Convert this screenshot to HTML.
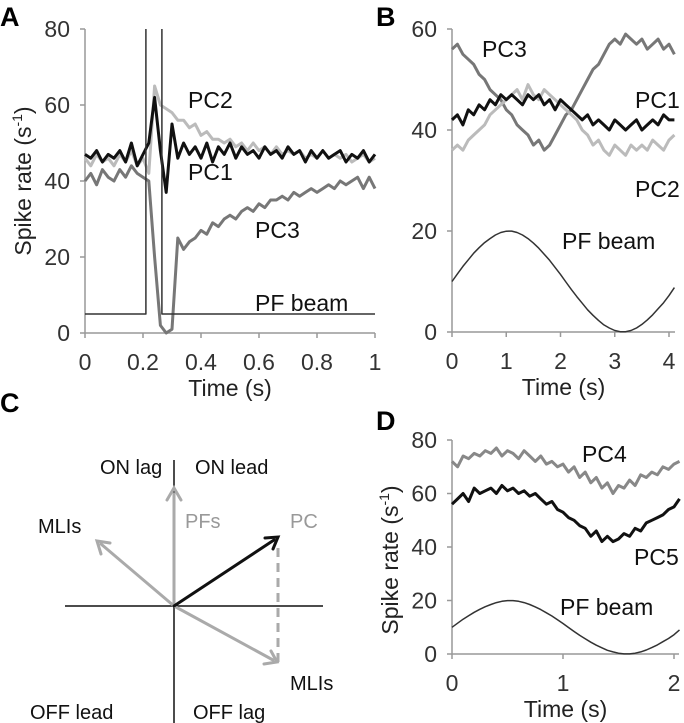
<!DOCTYPE html>
<html><head><meta charset="utf-8"><style>
html,body{margin:0;padding:0;background:#fff}
svg{display:block;font-family:"Liberation Sans",sans-serif}
</style></head><body>
<svg id="fig" width="684" height="723" viewBox="0 0 684 723">
<g id="gA"></g>
<g id="gB"></g>
<g id="gC">
  <line x1="174" y1="460" x2="174" y2="723" stroke="#111" stroke-width="1.5"/>
  <line x1="65" y1="606" x2="323" y2="606" stroke="#111" stroke-width="1.5"/>
  <line x1="278" y1="662" x2="278" y2="548" stroke="#aaa" stroke-width="3" stroke-dasharray="9,6"/>
  <g stroke-width="3" fill="none" stroke-linecap="round">
    <line x1="174" y1="606" x2="174" y2="494" stroke="#aaa"/>
    <polyline points="167,500 174,488 181,500" stroke="#aaa"/>
    <line x1="174" y1="606" x2="101" y2="544" stroke="#aaa"/>
    <polyline points="101,554 97,541 110,543" stroke="#aaa"/>
    <line x1="174" y1="606" x2="273" y2="660" stroke="#aaa"/>
    <polyline points="264,664 277,662 271,651" stroke="#aaa"/>
    <line x1="174" y1="606" x2="274" y2="540" stroke="#111"/>
    <polyline points="265,538 278,537 273,549" stroke="#111"/>
  </g>
  <g font-size="20" fill="#111">
    <text x="100" y="474">ON lag</text>
    <text x="195" y="474">ON lead</text>
    <text x="185" y="528" fill="#999">PFs</text>
    <text x="290" y="528" fill="#999">PC</text>
    <text x="38" y="533">MLIs</text>
    <text x="290" y="690">MLIs</text>
    <text x="30" y="719">OFF lead</text>
    <text x="193" y="719">OFF lag</text>
  </g>
  <text x="0" y="412" font-size="27" font-weight="bold">C</text>
</g>
<g id="gD"></g>
</svg>
<script>
// ---- Panel A data ----
const aTime = [0,0.02,0.04,0.06,0.08,0.10,0.12,0.14,0.16,0.18,0.20,0.22,0.24,0.26,0.28,0.30,0.32,0.34,0.36,0.38,0.40,0.42,0.44,0.46,0.48,0.50,0.52,0.54,0.56,0.58,0.60,0.62,0.64,0.66,0.68,0.70,0.72,0.74,0.76,0.78,0.80,0.82,0.84,0.86,0.88,0.90,0.92,0.94,0.96,0.98,1.0];
const aPC1 = [47,46,48,45,47,46,48,45,50,44,47,50,62,48,37,55,46,50,47,49,46,50,45,49,47,50,46,49,47,48,46,49,47,48,46,49,47,48,45,48,46,48,46,47,48,45,47,46,48,45,47];
const aPC2 = [46,44,47,45,46,44,47,45,48,44,46,42,65,60,59,58,56,56,54,55,52,53,51,51,50,51,49,50,48,50,48,49,47,49,47,48,47,48,46,47,46,48,46,47,46,47,45,46,47,45,46];
const aPC3 = [40,42,39,43,41,40,43,41,44,42,41,40,20,2,0,1,25,22,24,25,27,26,29,28,30,31,30,32,33,32,34,33,35,35,36,35,37,36,37,38,37,38,39,38,40,39,40,41,38,41,38];
const aBeamT = [0,0.21,0.21,0.265,0.265,1.0];
const aBeam = [5,5,120,120,5,5];
const aXTicks = [0,0.2,0.4,0.6,0.8,1];
const aXLabels = ["0","0.2","0.4","0.6","0.8","1"];
const aYTicks = [0,20,40,60,80];
// ---- Panel B data ----
const bTime = [0,0.1,0.2,0.3,0.4,0.5,0.6,0.7,0.8,0.9,1.0,1.1,1.2,1.3,1.4,1.5,1.6,1.7,1.8,1.9,2.0,2.1,2.2,2.3,2.4,2.5,2.6,2.7,2.8,2.9,3.0,3.1,3.2,3.3,3.4,3.5,3.6,3.7,3.8,3.9,4.0,4.1];
const bPC3 = [56,57,55,54,53,51,50,48,47,46,44,43,41,40,39,37,38,36,37,39,41,43,44,46,48,50,52,53,55,57,58,57,59,58,57,58,56,57,58,56,57,55];
const bPC1 = [42,43,41,44,43,45,44,46,45,47,46,47,46,45,47,46,47,45,46,44,46,45,44,43,42,43,41,42,41,40,42,41,40,41,42,40,41,42,41,43,42,42];
const bPC2 = [36,37,36,38,39,40,41,43,44,45,46,47,48,46,49,47,46,48,47,46,45,44,43,42,40,39,37,38,36,35,37,36,35,37,36,37,36,38,37,36,38,39];
const bBeam = [10,11.5,13,14.3,15.6,16.7,17.7,18.5,19.2,19.7,19.97,19.98,19.7,19.2,18.5,17.6,16.6,15.4,14.2,12.8,11.4,9.9,8.4,7.0,5.7,4.4,3.3,2.3,1.4,0.8,0.3,0.05,0.05,0.3,0.8,1.5,2.4,3.4,4.6,5.8,7.2,8.8];
const bXTicks = [0,1,2,3,4];
const bYTicks = [0,20,40,60];
// ---- Panel D data ----
const dTime = [0,0.05,0.1,0.15,0.2,0.25,0.3,0.35,0.4,0.45,0.5,0.55,0.6,0.65,0.7,0.75,0.8,0.85,0.9,0.95,1.0,1.05,1.1,1.15,1.2,1.25,1.3,1.35,1.4,1.45,1.5,1.55,1.6,1.65,1.7,1.75,1.8,1.85,1.9,1.95,2.0,2.05];
const dPC4 = [72,70,74,73,75,74,76,75,77,74,76,75,73,76,74,72,74,71,72,70,71,68,70,66,68,64,66,62,64,60,63,62,65,63,67,66,68,67,70,69,71,72];
const dPC5 = [56,58,60,57,62,60,61,62,60,63,61,62,60,61,59,60,58,56,57,54,53,51,50,48,47,44,46,42,44,42,43,45,44,47,46,49,50,51,52,54,55,58];
const dBeam = [10,11.5,13,14.3,15.6,16.7,17.7,18.5,19.2,19.7,19.97,19.98,19.7,19.2,18.5,17.6,16.6,15.4,14.2,12.8,11.4,9.9,8.4,7.0,5.7,4.4,3.3,2.3,1.4,0.8,0.3,0.05,0.05,0.3,0.8,1.5,2.4,3.4,4.6,5.8,7.2,9.0];
const dXTicks = [0,1,2];
const dYTicks = [0,20,40,60,80];

const NS = "http://www.w3.org/2000/svg";
function mk(parent, tag, attrs){ const e=document.createElementNS(NS,tag); for(const k in attrs) e.setAttribute(k,attrs[k]); parent.appendChild(e); return e; }
function scale(d0,d1,r0,r1){ return v => r0 + (v-d0)/(d1-d0)*(r1-r0); }

function axes(g, X, Y, xEnd, xTicks, xLabels, yTicks, yTop, yBot, x0px, yTitle){
  const ya = mk(g,'line',{x1:x0px,y1:yTop,x2:x0px,y2:yBot,stroke:'#999','stroke-width':1.5});
  
  
  const xa = mk(g,'line',{x1:x0px,y1:yBot,x2:xEnd,y2:yBot,stroke:'#999','stroke-width':1.5});
  
  
  xTicks.forEach((t,i)=>{
    const tk = mk(g,'line',{x1:X(t),y1:yBot,x2:X(t),y2:yBot+5,stroke:'#999','stroke-width':1.5});
    
    
    const tx = mk(g,'text',{x:X(t),y:yBot+37,'text-anchor':'middle','font-size':23,fill:'#333'});
    tx.textContent = xLabels ? xLabels[i] : String(t);
    
    
  });
  yTicks.forEach(t=>{
    const tk = mk(g,'line',{x1:x0px-5,y1:Y(t),x2:x0px,y2:Y(t),stroke:'#999','stroke-width':1.5});
    
    
    const tx = mk(g,'text',{x:x0px-15,y:Y(t)+8,'text-anchor':'end','font-size':23,fill:'#333'});
    tx.textContent = String(t);
    
    
  });
  const xt = mk(g,'text',{x:(x0px+xEnd)/2,y:yBot+63,'text-anchor':'middle','font-size':23,fill:'#222'});
  xt.textContent='Time (s)';
  
  
  if(yTitle){
    const yt = mk(g,'text',{x:0,y:0,'text-anchor':'middle','font-size':23,fill:'#222',transform:`translate(${yTitle[0]},${yTitle[1]}) rotate(-90)`});
    yt.innerHTML = 'Spike rate (s<tspan dy="-9" font-size="14">-1</tspan><tspan dy="9">)</tspan>';
    
    
  }
}
function series(g, xs, ys, X, Y, color, w, name){
  const p = mk(g,'polyline',{points:xs.map((x,i)=>X(x).toFixed(1)+','+Y(ys[i]).toFixed(1)).join(' '),fill:'none',stroke:color,'stroke-width':w,'stroke-linejoin':'round'});
  
  
}
function label(g,x,y,txt,name){
  const t = mk(g,'text',{x:x,y:y,'font-size':23,fill:'#111'});
  t.textContent = txt;
  
  
}

// Panel A
(function(){
  const g=document.getElementById('gA');
  const X=scale(0,1,85,375), Y=scale(0,80,333,29);
  axes(g,X,Y,375,aXTicks,aXLabels,aYTicks,29,333,85,[31,181]);
  const clip = mk(g,'clipPath',{id:'clipA'}); mk(clip,'rect',{x:80,y:29,width:300,height:310});
  const s = mk(g,'g',{'clip-path':'url(#clipA)'});
  series(s,aTime,aPC3,X,Y,'#777',3,'pc3-line');
  series(s,aTime,aPC2,X,Y,'#bbb',3,'pc2-line');
  series(s,aTime,aPC1,X,Y,'#111',3,'pc1-line');
  series(s,aBeamT,aBeam,X,Y,'#333',1.5,'pf-beam-line');
  label(g,188,108,'PC2','pc2-label');
  label(g,188,180,'PC1','pc1-label');
  label(g,255,238,'PC3','pc3-label');
  label(g,255,311,'PF beam','pf-beam-label');
  const L=mk(g,'text',{x:0,y:26,'font-size':27,'font-weight':'bold'}); L.textContent='A';
  
  
})();
// Panel B
(function(){
  const g=document.getElementById('gB');
  const X=scale(0,4,452,669), Y=scale(0,60,332,29);
  axes(g,X,Y,675,bXTicks,null,bYTicks,29,332,452,null);
  series(g,bTime,bPC3,X,Y,'#777',3,'pc3-line');
  series(g,bTime,bPC2,X,Y,'#bbb',3,'pc2-line');
  series(g,bTime,bPC1,X,Y,'#111',3,'pc1-line');
  series(g,bTime,bBeam,X,Y,'#333',1.5,'pf-beam-line');
  label(g,482,57,'PC3','pc3-label');
  label(g,635,108,'PC1','pc1-label');
  label(g,635,197,'PC2','pc2-label');
  label(g,562,249,'PF beam','pf-beam-label');
  const L=mk(g,'text',{x:376,y:26,'font-size':27,'font-weight':'bold'}); L.textContent='B';
  
  
})();
// Panel D
(function(){
  const g=document.getElementById('gD');
  const X=scale(0,2,452,674), Y=scale(0,80,654,440);
  axes(g,X,Y,679,dXTicks,null,dYTicks,440,654,452,[398,560]);
  series(g,dTime,dPC4,X,Y,'#888',3,'pc4-line');
  series(g,dTime,dPC5,X,Y,'#111',3,'pc5-line');
  series(g,dTime,dBeam,X,Y,'#333',1.5,'pf-beam-line');
  label(g,582,462,'PC4','pc4-label');
  label(g,634,565,'PC5','pc5-label');
  label(g,560,615,'PF beam','pf-beam-label');
  const L=mk(g,'text',{x:376,y:430,'font-size':27,'font-weight':'bold'}); L.textContent='D';
  
  
})();
</script>
</body></html>
